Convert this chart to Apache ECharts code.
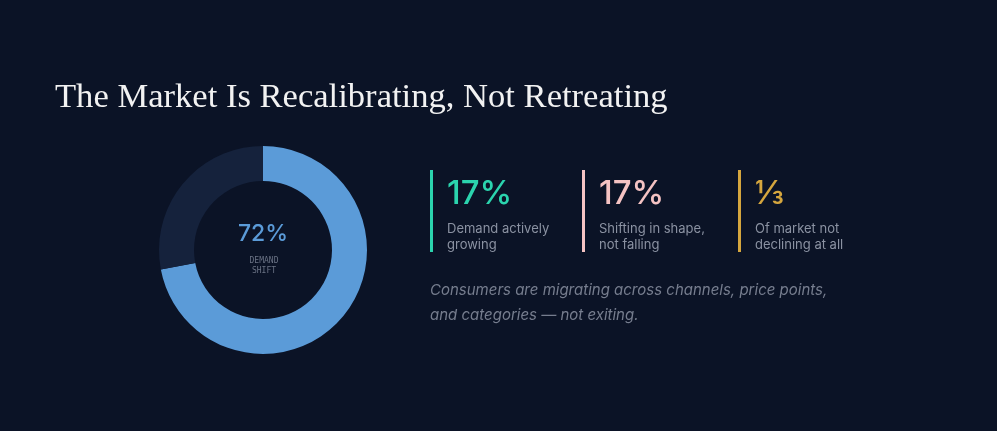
<!DOCTYPE html>
<html>
<head>
<meta charset="UTF-8">
<title>The Market Is Recalibrating</title>
<script src="https://cdn.jsdelivr.net/npm/echarts@6/dist/echarts.min.js"></script>
<style>
  html, body { margin:0; padding:0; background:#0b1326; }
  #chart { width:997px; height:431px; }
</style>
</head>
<body>
<div id="chart"></div>
<script>
// donut data
var shiftNames = ['Demand shift', 'Other'];
var shiftValues = [72, 28];
var shiftColors = ['#5b9bd8', '#15223c'];

// stat blocks
var statValues = ['17%', '17%', '\u2153'];
var statLabels = ['Demand actively\ngrowing', 'Shifting in shape,\nnot falling', 'Of market not\ndeclining at all'];
var statColors = ['#2bd4ae', '#f5c3c3', '#d5a63e'];
var statX = [430, 582, 738];

var chart = echarts.init(document.getElementById('chart'));

var graphics = [];
for (var i = 0; i < statValues.length; i++) {
  graphics.push({
    type: 'rect', left: statX[i], top: 170,
    shape: { width: 3, height: 82 },
    style: { fill: statColors[i] }
  });
  graphics.push({
    type: 'text', left: statX[i] + 17, top: 178,
    style: { text: statValues[i], fill: statColors[i], font: '500 33px Inter' }
  });
  graphics.push({
    type: 'text', left: statX[i] + 17, top: 221,
    style: { text: statLabels[i], fill: '#8b92a2', font: '13px Inter', lineHeight: 16 }
  });
}
graphics.push({
  type: 'text', left: 430, top: 278,
  style: {
    text: 'Consumers are migrating across channels, price points,\nand categories \u2014 not exiting.',
    fill: '#767d8e', font: 'italic 15px Inter', lineHeight: 25
  }
});
// centre label
graphics.push({
  type: 'text', x: 263, y: 223,
  style: { text: shiftValues[0] + '%', fill: shiftColors[0], font: '500 23px Inter', textAlign: 'center' }
});
graphics.push({
  type: 'text', x: 264, y: 256,
  style: { text: 'DEMAND\nSHIFT', fill: '#6b7385', font: '8px "DejaVu Sans Mono"', lineHeight: 10, textAlign: 'center' }
});

var option = {
  backgroundColor: '#0b1326',
  title: {
    text: 'The Market Is Recalibrating, Not Retreating',
    left: 50, top: 75,
    textStyle: { color: '#f2f2f2', fontFamily: 'Liberation Serif', fontWeight: 'normal', fontSize: 34.6 }
  },
  graphic: graphics,
  series: [{
    type: 'pie',
    center: [263, 250],
    radius: [69, 104],
    startAngle: 90,
    clockwise: true,
    silent: true,
    label: { show: false },
    labelLine: { show: false },
    data: shiftValues.map(function (v, i) {
      return { name: shiftNames[i], value: v, itemStyle: { color: shiftColors[i] } };
    })
  }]
};

chart.setOption(option);
</script>
</body>
</html>
